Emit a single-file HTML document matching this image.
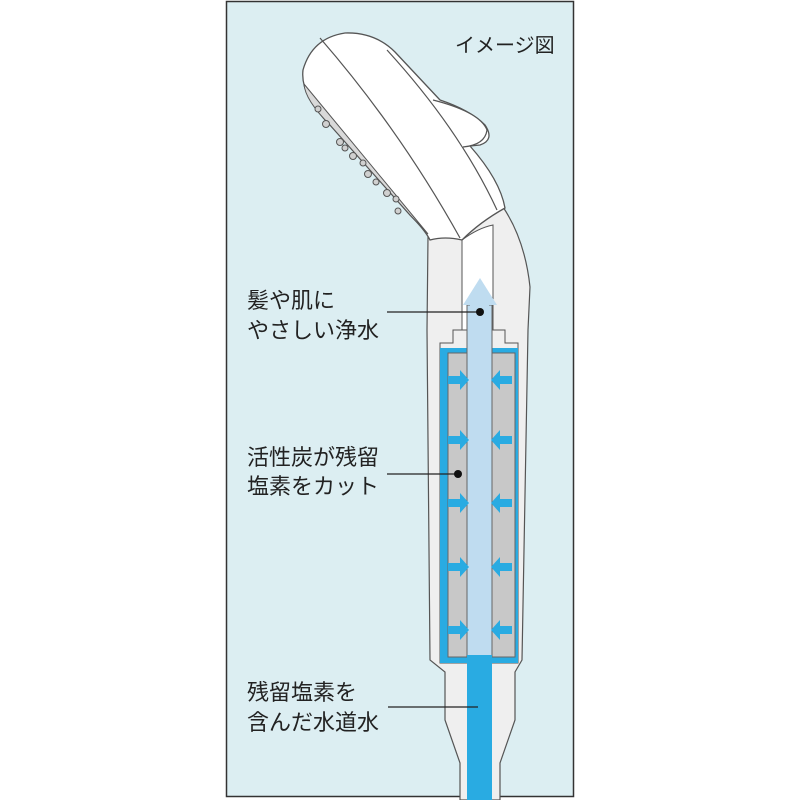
<!DOCTYPE html>
<html><head><meta charset="utf-8"><style>
html,body{margin:0;padding:0;background:#fff;}
svg{display:block}
text{font-family:"Liberation Sans","Noto Sans CJK JP",sans-serif;fill:#222;}
</style></head><body>
<svg width="800" height="800" viewBox="0 0 800 800" xmlns="http://www.w3.org/2000/svg">
<rect x="226.5" y="1.5" width="347" height="795" fill="#dceef2" stroke="#333" stroke-width="1.5"/>
<!-- handle -->
<path d="M428,237 L427,330 L430,660 L445,672 L445,720 L460,763 L460,800 L500,800 L500,763 L515,720 L515,672 L522,660 L528,330 L530,287 Q525,240 503,207 Z" fill="#efefef" stroke="#555" stroke-width="1.2"/>
<!-- white channel -->
<path d="M462,240 L462,330 L493,330 L493,225 Q478,228 462,240 Z" fill="#fff" stroke="#555" stroke-width="1"/>
<!-- head -->
<path d="M430,240 Q425,230 410,215 L330,125 Q300,95 303,70 Q312,38 345,33 Q375,32 395,52 L440,100 Q470,110 485,125 Q495,140 480,145 L470,146 Q500,180 505,208 Q480,222 462,240 Q445,236 430,240 Z" fill="#fff" stroke="#555" stroke-width="1.3"/>
<path d="M304,84 L428,234 L410,215 L330,125 Q305,100 304,84 Z" fill="#d9d9d9" stroke="#555" stroke-width="1"/>
<path d="M320,38 Q400,130 460,238" fill="none" stroke="#555" stroke-width="1.2"/>
<path d="M387,50 Q460,130 497,210" fill="none" stroke="#555" stroke-width="1.2"/>
<path d="M433,100 Q480,112 487,130 Q485,145 463,147" fill="#fff" stroke="#555" stroke-width="1.2"/>
<g fill="#d0d0d0" stroke="#555" stroke-width="1">
<circle cx="318" cy="109" r="3"/><circle cx="326" cy="124" r="3.5"/><circle cx="340" cy="142" r="3.5"/><circle cx="345" cy="148" r="3"/><circle cx="353" cy="156" r="3.5"/><circle cx="363" cy="163" r="3"/><circle cx="368" cy="174" r="3.5"/><circle cx="376" cy="182" r="3"/><circle cx="387" cy="193" r="3.5"/><circle cx="396" cy="199" r="3"/><circle cx="398" cy="211" r="3"/>
</g>
<!-- cartridge top collar -->
<path d="M453,330 L453,343 L440,343 L440,663 L518,663 L518,343 L505,343 L505,330 Z" fill="#efefef" stroke="#555" stroke-width="1"/>
<rect x="440" y="348" width="78" height="315" fill="#29abe2"/>
<rect x="448" y="353" width="67" height="304" fill="#c8c8c8" stroke="#666" stroke-width="1"/>
<rect x="467" y="305" width="25" height="352" fill="#bfdcf0" stroke="#666" stroke-width="1"/>
<path d="M463,305 L480,278 L497,305 L489,305 L489,330 L470,330 L470,305 Z" fill="#bfdcf0"/>
<rect x="467" y="655" width="25" height="145" fill="#29abe2"/>
<g fill="#29abe2">
<path id="ar" d="M448,376 L460,376 L460,370 L469,380 L460,390 L460,384 L448,384 Z"/>
<use href="#ar" y="60"/><use href="#ar" y="123"/><use href="#ar" y="187"/><use href="#ar" y="250"/>
<g transform="translate(960,0) scale(-1,1)">
<use href="#ar"/><use href="#ar" y="60"/><use href="#ar" y="123"/><use href="#ar" y="187"/><use href="#ar" y="250"/>
</g>
</g>
<!-- labels -->
<g stroke="#222" stroke-width="1.3">
<line x1="387" y1="312" x2="480" y2="312"/><line x1="387" y1="474" x2="457" y2="474"/><line x1="388" y1="707" x2="478" y2="707"/>
</g>
<circle cx="480" cy="312" r="4" fill="#111"/><circle cx="458" cy="474" r="4" fill="#111"/>
<text x="455" y="52" font-size="20">イメージ図</text>
<text x="247" y="308" font-size="22">髪や肌に</text>
<text x="247" y="338" font-size="22">やさしい浄水</text>
<text x="247" y="465" font-size="22">活性炭が残留</text>
<text x="247" y="494" font-size="22">塩素をカット</text>
<text x="247" y="700" font-size="22">残留塩素を</text>
<text x="247" y="730" font-size="22">含んだ水道水</text>
</svg>
</body></html>
